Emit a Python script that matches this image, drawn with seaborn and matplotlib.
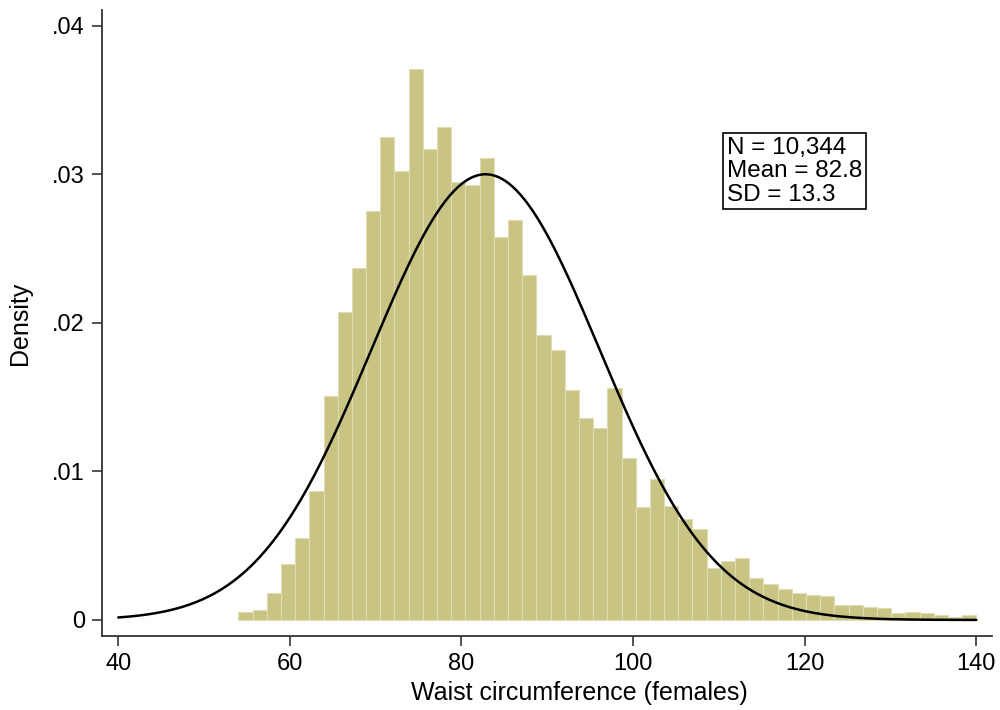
import numpy as np
import pandas as pd
import seaborn as sns
import matplotlib.pyplot as plt

# histogram densities: 52 equal bins from 54 to 140
bin_start = 54
bin_end = 140
densities = [
    0.00052, 0.00067, 0.0018, 0.0038, 0.0055, 0.0087, 0.0151, 0.0207,
    0.0237, 0.0275, 0.0325, 0.0302, 0.0371, 0.0317, 0.0332, 0.0295,
    0.0293, 0.0311, 0.0258, 0.0269, 0.0232, 0.0192, 0.0182, 0.0155,
    0.0136, 0.0129, 0.0156, 0.0109, 0.0076, 0.0095, 0.0077, 0.0068,
    0.0061, 0.0035, 0.0040, 0.0042, 0.0028, 0.0024, 0.0021, 0.0018,
    0.0017, 0.0016, 0.0010, 0.0010, 0.0009, 0.0008, 0.00045, 0.00056,
    0.00045, 0.00034, 0.00022, 0.00034,
]
# summary statistics shown in the box
n_label = '10,344'
mean_val = 82.8
sd_val = 13.3
curve_range = [40, 140]

x_ticks = [40, 60, 80, 100, 120, 140]
y_ticks = [0, 0.01, 0.02, 0.03, 0.04]
y_ticklabels = ['0', '.01', '.02', '.03', '.04']

sns.set_style('ticks')
plt.rcParams['font.family'] = ['Liberation Sans', 'DejaVu Sans']
plt.rcParams['text.color'] = 'black'
plt.rcParams['axes.labelcolor'] = 'black'
plt.rcParams['xtick.labelcolor'] = 'black'
plt.rcParams['ytick.labelcolor'] = 'black'

edges = np.linspace(bin_start, bin_end, len(densities) + 1).tolist()
centers = [(a + b) / 2 for a, b in zip(edges[:-1], edges[1:])]
hist_df = pd.DataFrame({'waist': centers, 'density': densities})

# normal density with the reported mean and SD
curve_x = np.linspace(curve_range[0], curve_range[1], 400)
curve_y = np.exp(-0.5 * ((curve_x - mean_val) / sd_val) ** 2) / (sd_val * np.sqrt(2 * np.pi))
curve_df = pd.DataFrame({'waist': curve_x, 'density': curve_y})

fig = plt.figure(figsize=(10, 7.1), dpi=100)
ax = fig.add_axes([0.1017, 0.1042, 0.8903, 0.8817])

sns.histplot(data=hist_df, x='waist', weights='density', bins=edges, stat='count',
             color='#c9c484', edgecolor='#e0ddb4', linewidth=0.8, alpha=1, ax=ax)
sns.lineplot(data=curve_df, x='waist', y='density', color='black', linewidth=1.8, ax=ax)

ax.set_xlim(38.07, 141.83)
ax.set_ylim(-0.00108, 0.04105)
ax.set_xticks(x_ticks)
ax.set_yticks(y_ticks)
ax.set_yticklabels(y_ticklabels)
ax.tick_params(axis='both', direction='out', length=7, width=1.2, color='#333333',
               labelsize=17, pad=5, labelcolor='black')

for side in ['top', 'right']:
    ax.spines[side].set_visible(False)
for side in ['left', 'bottom']:
    ax.spines[side].set_color('#333333')
    ax.spines[side].set_linewidth(1.3)

ax.set_xlabel('Waist circumference (females)', fontsize=18, color='black')
ax.set_ylabel('Density', fontsize=18, color='black')
ax.xaxis.set_label_coords(0.537, -0.072)
ax.yaxis.set_label_coords(-0.078, 0.5)

ax.text(110.9, 0.0325, f'N = {n_label}\nMean = {mean_val}\nSD = {sd_val}',
        ha='left', va='top', fontsize=17.5, linespacing=1.08, color='black',
        bbox=dict(boxstyle='square,pad=0.15', facecolor='white', edgecolor='black', linewidth=1.2))

fig.savefig('out.png', dpi=100)
